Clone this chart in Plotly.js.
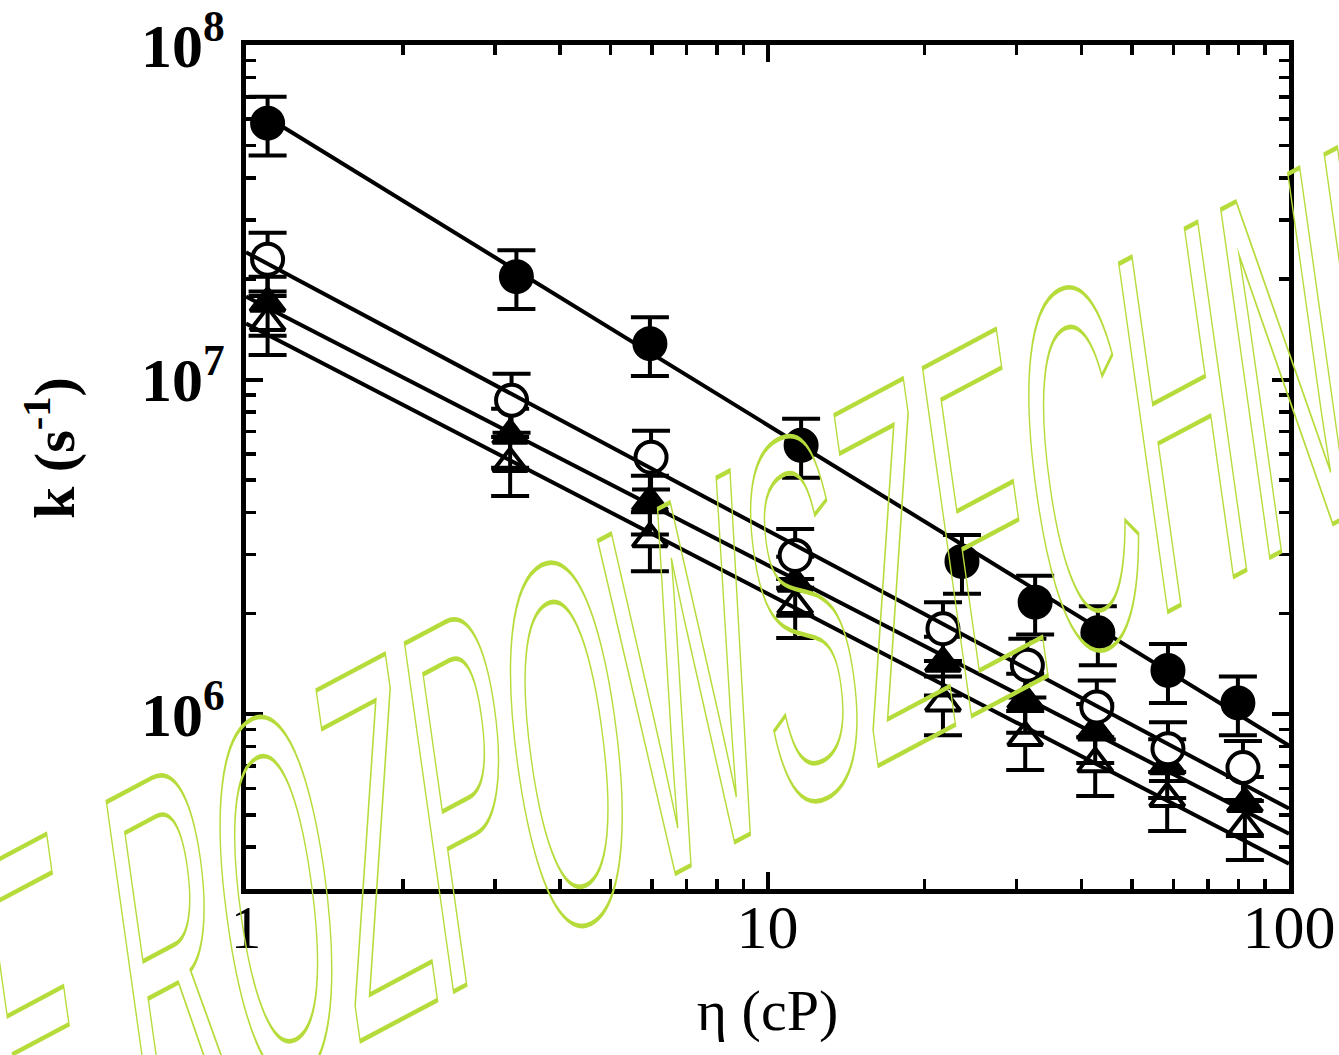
<!DOCTYPE html>
<html>
<head>
<meta charset="utf-8">
<script src="https://cdn.plot.ly/plotly-3.0.1.min.js"></script>
<style>
  html, body { margin: 0; padding: 0; background: #fff; }
  #chart { width: 1339px; height: 1055px; }
</style>
</head>
<body>
<div id="chart"></div>
<script>
// viscosity (cP) for each measurement
const etaFilledCircle = [1.10, 3.30, 5.95, 11.6, 23.6, 32.6, 43.0, 58.6, 79.8];
const kFilledCircle   = [5.84e7, 2.03e7, 1.28e7, 6.36e6, 2.86e6, 2.16e6, 1.75e6, 1.35e6, 1.08e6];

const etaOpenCircle = [1.10, 3.23, 5.98, 11.3, 21.7, 31.5, 42.8, 58.6, 81.6];
const kOpenCircle   = [2.29e7, 8.67e6, 5.86e6, 2.98e6, 1.80e6, 1.40e6, 1.05e6, 7.88e5, 6.92e5];

const etaFilledTri = [1.10, 3.21, 5.95, 11.3, 21.7, 31.2, 42.5, 58.4, 82.3];
const kFilledTri   = [1.69e7, 6.81e6, 4.30e6, 2.46e6, 1.42e6, 1.10e6, 8.93e5, 7.01e5, 5.40e5];

const etaOpenTri = [1.10, 3.21, 5.95, 11.3, 21.7, 31.2, 42.5, 58.4, 82.3];
const kOpenTri   = [1.48e7, 5.61e6, 3.34e6, 2.11e6, 1.08e6, 8.51e5, 7.11e5, 5.59e5, 4.58e5];

// relative uncertainty of k (percent)
const errPercent = 20;

// fitted power-law lines: end points
const fitEtaFilledCircle = [1.10, 100];
const fitFilledCircle    = [6.07e7, 8.05e5];
const fitEta = [1, 100];
const fitOpenCircle   = [2.40e7, 5.22e5];
const fitFilledTri    = [1.77e7, 4.39e5];
const fitOpenTri      = [1.47e7, 3.57e5];

// axis ticks
const xTickVals = [1, 10, 100];
const xTickText = ['1', '10', '100'];
const yTickVals = [1e6, 1e7, 1e8];
const yTickText = ['10<sup>6</sup>', '10<sup>7</sup>', '10<sup>8</sup>'];

const xTitle = 'η (cP)';
const yTitle = '<b>k (s<sup>-1</sup>)</b>';
const watermarkText = 'NIE ROZPOWSZECHNIAĆ';

function pointTrace(x, y, symbol, fill) {
  return {
    x: x, y: y, type: 'scatter', mode: 'markers',
    marker: {
      symbol: symbol,
      size: symbol.indexOf('triangle') === 0 ? 30 : 31,
      color: fill,
      line: { color: '#000', width: 4 }
    },
    error_y: { type: 'percent', value: errPercent, visible: true,
               color: '#000', thickness: 4, width: 19 },
    showlegend: false, hoverinfo: 'skip'
  };
}
function fitTrace(x, y) {
  return {
    x: x, y: y, type: 'scatter', mode: 'lines',
    line: { color: '#000', width: 4 },
    showlegend: false, hoverinfo: 'skip'
  };
}

const data = [
  pointTrace(etaOpenTri, kOpenTri, 'triangle-up', '#fff'),
  pointTrace(etaFilledTri, kFilledTri, 'triangle-up', '#000'),
  pointTrace(etaOpenCircle, kOpenCircle, 'circle', '#fff'),
  pointTrace(etaFilledCircle, kFilledCircle, 'circle', '#000'),
  fitTrace(fitEtaFilledCircle, fitFilledCircle),
  fitTrace(fitEta, fitOpenCircle),
  fitTrace(fitEta, fitFilledTri),
  fitTrace(fitEta, fitOpenTri)
];

const axisCommon = {
  type: 'log',
  showgrid: false, zeroline: false,
  showline: true, linecolor: '#000', linewidth: 5,
  mirror: 'allticks',
  ticks: 'inside', ticklen: 17, tickwidth: 4, tickcolor: '#000',
  tickmode: 'array',
  minor: { ticks: 'inside', ticklen: 10, tickwidth: 3.5, tickcolor: '#000', dtick: 'D1', showgrid: false }
};

const layout = {
  width: 1339, height: 1055,
  margin: { l: 246, r: 50, t: 45, b: 166 },
  paper_bgcolor: '#fff', plot_bgcolor: '#fff',
  font: { family: 'Liberation Serif, Times New Roman, serif', color: '#000' },
  xaxis: Object.assign({}, axisCommon, {
    range: [0, 2],
    tickvals: xTickVals, ticktext: xTickText,
    tickfont: { size: 62, family: 'Liberation Serif, serif' },
    ticklabelstandoff: -20,
    title: { text: xTitle, font: { size: 58, family: 'Liberation Serif, serif' }, standoff: 30 }
  }),
  yaxis: Object.assign({}, axisCommon, {
    range: [Math.log10(3e5), 8],
    tickvals: yTickVals, ticktext: yTickText,
    tickfont: { size: 62, family: 'Liberation Serif, serif', weight: 'bold' },
    ticklabelstandoff: 4
  }),
  annotations: [{
    text: yTitle,
    xref: 'paper', yref: 'paper', x: -0.188, y: 0.5225,
    xanchor: 'center', yanchor: 'middle', textangle: -90, showarrow: false,
    font: { size: 58, family: 'Liberation Serif, serif', color: '#000' }
  }, {
    text: watermarkText,
    xref: 'paper', yref: 'paper', x: 0.443, y: 0.262,
    xanchor: 'center', yanchor: 'middle',
    textangle: -28, showarrow: false,
    font: { family: 'Liberation Sans, Arial, sans-serif', size: 160, color: 'rgba(0,0,0,0)' }
  }]
};

Plotly.newPlot('chart', data, layout, { displayModeBar: false, staticPlot: true }).then(function (gd) {
  const all = gd.querySelectorAll('.annotation-text');
  const t = all[all.length - 1];
  if (t) {
    t.style.fill = 'none';
    t.style.stroke = '#b6dc3c';
    t.style.strokeWidth = '3.5px';
    t.style.vectorEffect = 'non-scaling-stroke';
    t.style.transformBox = 'fill-box';
    t.style.transformOrigin = 'center';
    t.style.transform = 'skewX(-20deg) scaleY(3.0)';
  }
});
</script>
</body>
</html>
